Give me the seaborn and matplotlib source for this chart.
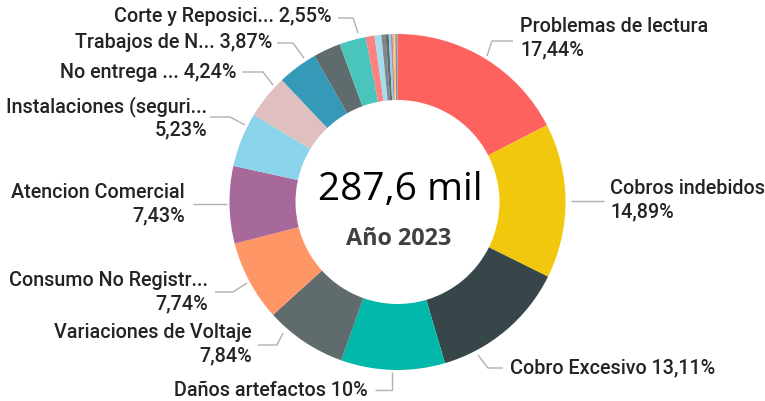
import matplotlib
matplotlib.use("Agg")
import matplotlib.pyplot as plt
import seaborn as sns

# Reclamos por tipo, año 2023 (porcentaje del total)
categorias = [
    "Problemas de lectura", "Cobros indebidos", "Cobro Excesivo", "Daños artefactos",
    "Variaciones de Voltaje", "Consumo No Registr...", "Atencion Comercial",
    "Instalaciones (seguri...", "No entrega ...", "Trabajos de N...",
]
valores = [17.44, 14.89, 13.11, 10.00, 7.84, 7.74, 7.43, 5.23, 4.24, 3.87]
# slices that Power BI left without a label
otros_valores = [2.62]
corte_nombre = "Corte y Reposici..."
corte_valor = 2.55
resto_valores = [0.85, 0.65, 0.40, 0.30, 0.20, 0.18, 0.15, 0.12, 0.10, 0.09]

total_texto = "287,6 mil"
anio_texto = "Año 2023"

colores = ["#FD625E", "#F2C80F", "#374649", "#01B8AA", "#5F6B6D", "#FE9666", "#A66999",
           "#8AD4EB", "#DFBFBF", "#3599B8", "#5F6B6D", "#4AC5BB", "#FB8281", "#A4DDEE",
           "#7F898A", "#5F6B6D", "#8AD4EB", "#B687AC", "#FDAB89", "#F4D25A", "#28738A",
           "#A78F8F"]

nombres = categorias + [None] * len(otros_valores) + [corte_nombre] + [None] * len(resto_valores)
datos = valores + otros_valores + [corte_valor] + resto_valores

# label layout in pixels: leader points, text x, text y (line 1), two lines?, ha
layout = {
    "Problemas de lectura": ([(487, 56), (492, 41), (513, 41)], 520, 27, True, "left"),
    "Cobros indebidos": ([(571, 201), (604, 201)], 610, 189, True, "left"),
    "Cobro Excesivo": ([(478, 355), (488, 368), (503, 368)], 510, 368, False, "left"),
    "Daños artefactos": ([(392, 372), (392, 390), (375, 390)], 368, 390, False, "right"),
    "Variaciones de Voltaje": ([(283, 333), (277, 345), (258, 345)], 252, 333, True, "right"),
    "Consumo No Registr...": ([(247, 283), (233, 292), (215, 292)], 208, 281, True, "right"),
    "Atencion Comercial": ([(227, 204), (193, 204)], 185, 193, True, "right"),
    "Instalaciones (seguri...": ([(245, 125), (230, 117), (210, 117)], 207, 107, True, "right"),
    "No entrega ...": ([(273, 85), (263, 72), (242, 72)], 237, 72, False, "right"),
    "Trabajos de N...": ([(304, 58), (293, 43), (277, 43)], 272, 43, False, "right"),
    "Corte y Reposici...": ([(358, 33), (353, 18), (338, 18)], 332, 17, False, "right"),
}

sns.set_theme(style="white")
plt.rcParams["font.family"] = ["Roboto", "DejaVu Sans"]

W, H = 765, 401
fig = plt.figure(figsize=(W / 100, H / 100), dpi=100)
ax = fig.add_axes([0, 0, 1, 1])

centro = (397.5, 202)
radio = 168
ax.pie(datos, colors=colores[:len(datos)], startangle=-90, counterclock=True,
       center=centro, radius=radio,
       wedgeprops=dict(width=66, linewidth=0.3, edgecolor="none", antialiased=True))
ax.set_xlim(0, W)
ax.set_ylim(H, 0)
ax.set_aspect("equal")
ax.axis("off")


def pct(v):
    s = f"{v:.2f}".replace(".", ",")
    if s.endswith(",00"):
        s = s[:-3]
    return s + "%"


texto_color = "#252423"
fs = 14.2
for nombre, v in zip(nombres, datos):
    if nombre is None:
        continue
    puntos, tx, ty, dos_lineas, ha = layout[nombre]
    xs = [p[0] for p in puntos]
    ys = [p[1] for p in puntos]
    ax.plot(xs, ys, color="#B0B0B0", lw=1.0, solid_capstyle="butt")
    if dos_lineas:
        ax.text(tx, ty, nombre, ha=ha, va="center", fontsize=fs, color=texto_color, fontweight="medium")
        ax.text(tx, ty + 23, pct(v), ha=ha, va="center", fontsize=fs, color=texto_color, fontweight="medium")
    else:
        ax.text(tx, ty, f"{nombre} {pct(v)}", ha=ha, va="center", fontsize=fs,
                color=texto_color, fontweight="medium")

ax.text(centro[0] + 3, 190, total_texto, ha="center", va="center", fontsize=28,
        color="black", family=["Open Sans", "DejaVu Sans"])
ax.text(centro[0] + 1, 239, anio_texto, ha="center", va="center", fontsize=16.8,
        color="#404040", fontweight="bold", family=["Open Sans", "DejaVu Sans"])

fig.savefig("out.png", dpi=100, facecolor="white")
